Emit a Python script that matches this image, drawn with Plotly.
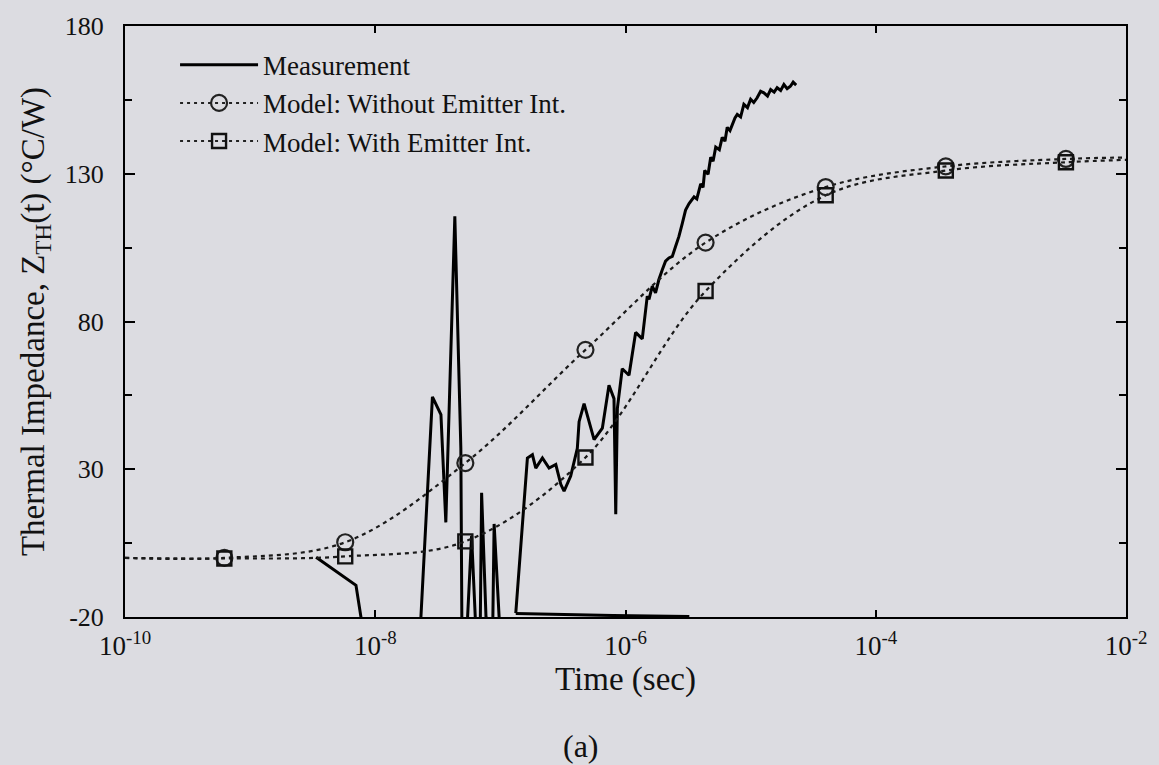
import numpy as np
import plotly.graph_objects as go

# ---------------- data ----------------
# model curves: log10(time) of markers, plus curve end points at axis edges
model_log_t = [-10.0, -9.206, -8.24, -7.28, -6.32, -5.36, -4.40, -3.44, -2.48, -2.0]
without_emitter = [0.0, 0.0, 5.3, 32.1, 70.4, 106.7, 125.5, 132.5, 135.0, 135.5]
with_emitter = [0.0, -0.2, 0.5, 5.6, 34.0, 90.3, 122.7, 131.1, 133.9, 134.7]
marker_shown = [False, True, True, True, True, True, True, True, True, False]

# measurement (log10 time, value); None = gap
meas_log_t = [
    -8.473, -8.154, -8.114, -8.09, None,
    -7.66, -7.635, -7.543, -7.475, -7.436, -7.364, -7.316, -7.308, -7.29, None,
    -7.27, -7.262, -7.23, -7.198, -7.19, -7.16, -7.15, -7.115, -7.095, -7.06, -7.05, -7.01, -6.97, -6.96, None,
    -6.877, -6.70, -6.40, -6.10, -5.80, -5.49, None,
    -6.877, -6.824, -6.784, -6.744, -6.717, -6.664, -6.611, -6.557, -6.517, -6.491,
    -6.438, -6.385, -6.371, -6.331, -6.305, -6.251, -6.185, -6.132, -6.092, -6.078,
    -6.065, -6.026, -5.972, -5.919, -5.866, -5.826, -5.812, -5.786, -5.760, -5.733,
    -5.706, -5.680, -5.653, -5.626, -5.600, -5.573, -5.546, -5.520, -5.492, -5.452,
    -5.430, -5.399, -5.380, -5.367, -5.340, -5.319, -5.300, -5.279, -5.250, -5.227,
    -5.205, -5.187, -5.165, -5.147, -5.125, -5.107, -5.080, -5.054, -5.025, -5.000,
    -4.975, -4.948, -4.920, -4.894, -4.865, -4.840, -4.812, -4.788, -4.760, -4.734,
    -4.708, -4.682, -4.660, -4.636,
]
meas_value = [
    0.2, -9.3, -20.1, -30.0, None,
    -30.0, -20.0, 54.5, 48.5, 12.0, 115.6, 37.1, -20.0, -30.0, None,
    -30.0, -20.0, 7.5, -20.0, -30.0, -20.0, 22.0, -20.0, -30.0, -20.0, 11.5, -20.0, -30.0, -20.0, None,
    -18.8, -19.0, -19.3, -19.5, -19.7, -19.8, None,
    -18.7, 12.6, 33.8, 34.9, 30.4, 33.8, 30.4, 31.6, 24.9, 22.6,
    27.7, 37.1, 46.1, 52.2, 48.4, 40.0, 43.9, 58.4, 53.9, 14.8,
    50.6, 64.0, 61.8, 76.3, 74.1, 88.6, 87.5, 92.0, 89.7, 94.2,
    97.5, 100.4, 101.5, 102.0, 105.4, 108.8, 113.2, 117.7, 119.9, 122.2,
    121.5, 126.6, 125.4, 131.1, 129.8, 135.6, 134.2, 139.0, 138.1, 142.3,
    141.0, 145.7, 144.6, 146.8, 148.9, 150.1, 149.2, 153.5, 152.4, 155.2,
    154.1, 155.7, 157.9, 157.4, 156.3, 158.5, 157.6, 159.1, 158.2, 160.2,
    158.8, 159.6, 161.0, 160.0,
]

x_tick_exp = [-10, -8, -6, -4, -2]
y_major = [-20, 30, 80, 130, 180]
y_minor = [5, 55, 105, 155]

# ---------------- figure ----------------
BG = "rgb(220,220,225)"
FONT = "Liberation Serif, Times New Roman, serif"

def to_t(vals):
    return [None if v is None else 10 ** v for v in vals]

model_t = to_t(model_log_t)
meas_t = to_t(meas_log_t)
mt = [t for t, s in zip(model_t, marker_shown) if s]
wo = [v for v, s in zip(without_emitter, marker_shown) if s]
we = [v for v, s in zip(with_emitter, marker_shown) if s]

DASH = "4px,4px"
fig = go.Figure()

fig.add_trace(go.Scatter(x=meas_t, y=meas_value, mode="lines", name="Measurement",
                         line=dict(color="black", width=3), connectgaps=False,
                         legendgroup="a"))
fig.add_trace(go.Scatter(x=model_t, y=without_emitter, mode="lines", showlegend=False,
                         line=dict(color="#1a1a1a", width=2.2, dash=DASH, shape="spline", smoothing=1.0)))
fig.add_trace(go.Scatter(x=model_t, y=with_emitter, mode="lines", showlegend=False,
                         line=dict(color="#1a1a1a", width=2.2, dash=DASH, shape="spline", smoothing=1.0)))
fig.add_trace(go.Scatter(x=mt, y=wo, mode="markers", showlegend=False,
                         marker=dict(symbol="circle-open", size=16, color="#222", line=dict(width=2.2))))
fig.add_trace(go.Scatter(x=mt, y=we, mode="markers", showlegend=False,
                         marker=dict(symbol="square-open", size=14, color="#111", line=dict(width=2.4))))
fig.add_trace(go.Scatter(x=[None], y=[None], mode="lines+markers", name="Model: Without Emitter Int.",
                         line=dict(color="#222", width=2, dash="3px,4px"),
                         marker=dict(symbol="circle-open", size=16, color="#222", line=dict(width=2.2)),
                         legendgroup="b"))
fig.add_trace(go.Scatter(x=[None], y=[None], mode="lines+markers", name="Model: With Emitter Int.",
                         line=dict(color="#222", width=2, dash="3px,4px"),
                         marker=dict(symbol="square-open", size=14, color="#111", line=dict(width=2.4)),
                         legendgroup="c"))

fig.update_layout(
    width=1159, height=765,
    paper_bgcolor=BG, plot_bgcolor=BG,
    margin=dict(l=125, r=31, t=21, b=148),
    font=dict(family=FONT, size=26, color="#111"),
    showlegend=True,
    legend=dict(x=0.05, y=0.975, xanchor="left", yanchor="top", bgcolor="rgba(0,0,0,0)",
                font=dict(size=27), tracegroupgap=0, itemwidth=78),
    annotations=[dict(text="(a)", x=0.456, y=-0.218, xref="paper", yref="paper",
                      xanchor="center", yanchor="middle",
                      showarrow=False, font=dict(size=32, family=FONT))],
)

fig.update_xaxes(
    type="log", range=[-10, -2],
    tickvals=[10 ** e for e in x_tick_exp],
    ticktext=[f"10<sup>{e}</sup>" for e in x_tick_exp],
    ticks="inside", ticklen=7, tickwidth=1.5, tickcolor="black",
    showline=True, linecolor="black", linewidth=2, mirror="allticks",
    showgrid=False, zeroline=False,
    title=dict(text="Time (sec)", standoff=2, font=dict(size=33)),
    tickfont=dict(size=27), ticklabelstandoff=4,
)
fig.update_yaxes(
    range=[-20, 180],
    tickvals=y_major, ticktext=[str(v) for v in y_major],
    ticks="inside", ticklen=10, tickwidth=1.5, tickcolor="black",
    minor=dict(tickvals=y_minor, ticks="inside", ticklen=7, tickcolor="black", tickwidth=1.5),
    showline=True, linecolor="black", linewidth=2, mirror="allticks",
    showgrid=False, zeroline=False,
    title=dict(text="Thermal Impedance, Z<sub>TH</sub>(t) (°C/W)", standoff=10, font=dict(size=33)),
    tickfont=dict(size=26), ticklabelstandoff=14,
)

fig.write_html("out.html", config={"displayModeBar": False},
               post_script="document.body.style.margin='0';document.body.style.background='rgb(220,220,225)';")
